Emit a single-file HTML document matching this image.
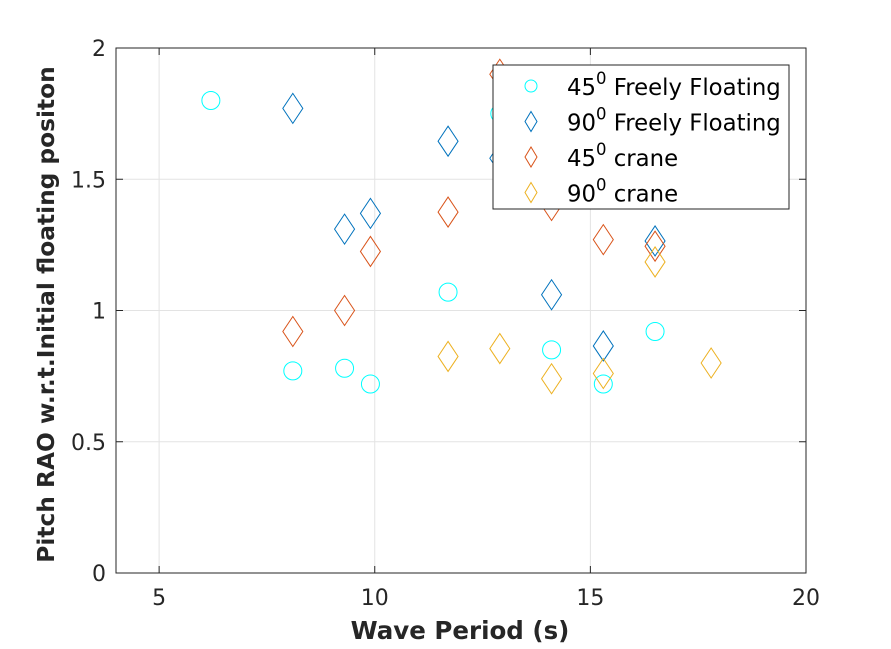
<!DOCTYPE html>
<html><head><meta charset="utf-8"><style>
body{margin:0;background:#fff;font-family:"DejaVu Sans","Liberation Sans",sans-serif}
svg text{font-family:"DejaVu Sans","Liberation Sans",sans-serif}
</style></head><body>
<svg id="c" width="891" height="645" xmlns="http://www.w3.org/2000/svg"></svg>
<script>
const xTicks=[5,10,15,20];
const yTicks=[0,0.5,1,1.5,2];
const yTickLabels=["0","0.5","1","1.5","2"];
const cyanX=[6.2,8.1,9.3,9.9,11.7,12.9,14.1,15.3,16.5];
const cyanY=[1.80,0.77,0.78,0.72,1.07,1.75,0.85,0.72,0.92];
const blueX=[8.1,9.3,9.9,11.7,12.9,14.1,15.3,16.5];
const blueY=[1.77,1.31,1.37,1.645,1.58,1.06,0.865,1.265];
const orangeX=[8.1,9.3,9.9,11.7,12.9,14.1,15.3,16.5];
const orangeY=[0.92,1.0,1.225,1.375,1.90,1.40,1.27,1.245];
const yellowX=[11.7,12.9,14.1,15.3,16.5,17.8];
const yellowY=[0.825,0.855,0.74,0.76,1.185,0.80];
const NS="http://www.w3.org/2000/svg";
const svg=document.getElementById('c');
const L=116,R=806,T=48,B=573;
const sx=v=>L+(v-4)/(20-4)*(R-L);
const sy=v=>B-(v/2)*(B-T);
function mk(t,a,p){const e=document.createElementNS(NS,t);for(const k in a)e.setAttribute(k,a[k]);(p||svg).appendChild(e);return e;}
const bg=mk('rect',{x:L,y:T,width:R-L,height:B-T,fill:'#fff'});


xTicks.forEach(v=>{
  const g=mk('line',{x1:sx(v),x2:sx(v),y1:T,y2:B,stroke:'#e3e3e3'});
  
  
  mk('line',{x1:sx(v),x2:sx(v),y1:B,y2:B-7,stroke:'#262626'});
  mk('line',{x1:sx(v),x2:sx(v),y1:T,y2:T+7,stroke:'#262626'});
  const t=mk('text',{x:sx(v),y:B+32,'text-anchor':'middle','font-size':22,fill:'#262626'});t.textContent=v;
  
  
});
yTicks.forEach((v,i)=>{
  const g=mk('line',{x1:L,x2:R,y1:sy(v),y2:sy(v),stroke:'#e3e3e3'});
  
  
  mk('line',{x1:L,x2:L+7,y1:sy(v),y2:sy(v),stroke:'#262626'});
  mk('line',{x1:R,x2:R-7,y1:sy(v),y2:sy(v),stroke:'#262626'});
  const t=mk('text',{x:L-10,y:sy(v)+8,'text-anchor':'end','font-size':22,fill:'#262626'});t.textContent=yTickLabels[i];
  
  
});
const ax=mk('rect',{x:L,y:T,width:R-L,height:B-T,fill:'none',stroke:'#262626'});


function circ(x,y,c,r,p){return mk('circle',{cx:x,cy:y,r:r||9,fill:'none',stroke:c,'stroke-width':1},p);}
function dia(x,y,c,w,h,p){w=w||10;h=h||15;return mk('polygon',{points:`${x},${y-h} ${x+w},${y} ${x},${y+h} ${x-w},${y}`,fill:'none',stroke:c,'stroke-width':1},p);}
cyanX.forEach((v,i)=>{const e=circ(sx(v),sy(cyanY[i]),'#00ffff');});
blueX.forEach((v,i)=>{const e=dia(sx(v),sy(blueY[i]),'#0072bd');});
orangeX.forEach((v,i)=>{const e=dia(sx(v),sy(orangeY[i]),'#d95319');});
yellowX.forEach((v,i)=>{const e=dia(sx(v),sy(yellowY[i]),'#edb120');});
const xl=mk('text',{x:460,y:639,'text-anchor':'middle','font-size':24.5,'font-weight':'bold',fill:'#262626'});xl.textContent='Wave Period (s)';


const yl=mk('text',{x:0,y:0,'text-anchor':'middle','font-size':23.3,'font-weight':'bold',fill:'#262626',transform:`translate(54,${(T+B)/2+4}) rotate(-90)`});yl.textContent='Pitch RAO w.r.t.Initial floating positon';


const lg=mk('g',{});


mk('rect',{x:493,y:65,width:296,height:144,fill:'#fff',stroke:'#262626'},lg);
const labels=[['45','Freely Floating','#00ffff',0],['90','Freely Floating','#0072bd',1],['45','crane','#d95319',1],['90','crane','#edb120',1]];
labels.forEach((l,i)=>{
  const y=86+i*35.5;
  if(l[3]===0)circ(531,y,l[2],6,lg);else dia(531,y,l[2],6,10,lg);
  const t=mk('text',{x:567,y:y+9,'font-size':22.8,fill:'#000'},lg);
  t.innerHTML=`${l[0]}<tspan dy="-11" font-size="16.5">0</tspan><tspan dy="11"> ${l[1]}</tspan>`;
  
  
});
</script>
</body></html>
